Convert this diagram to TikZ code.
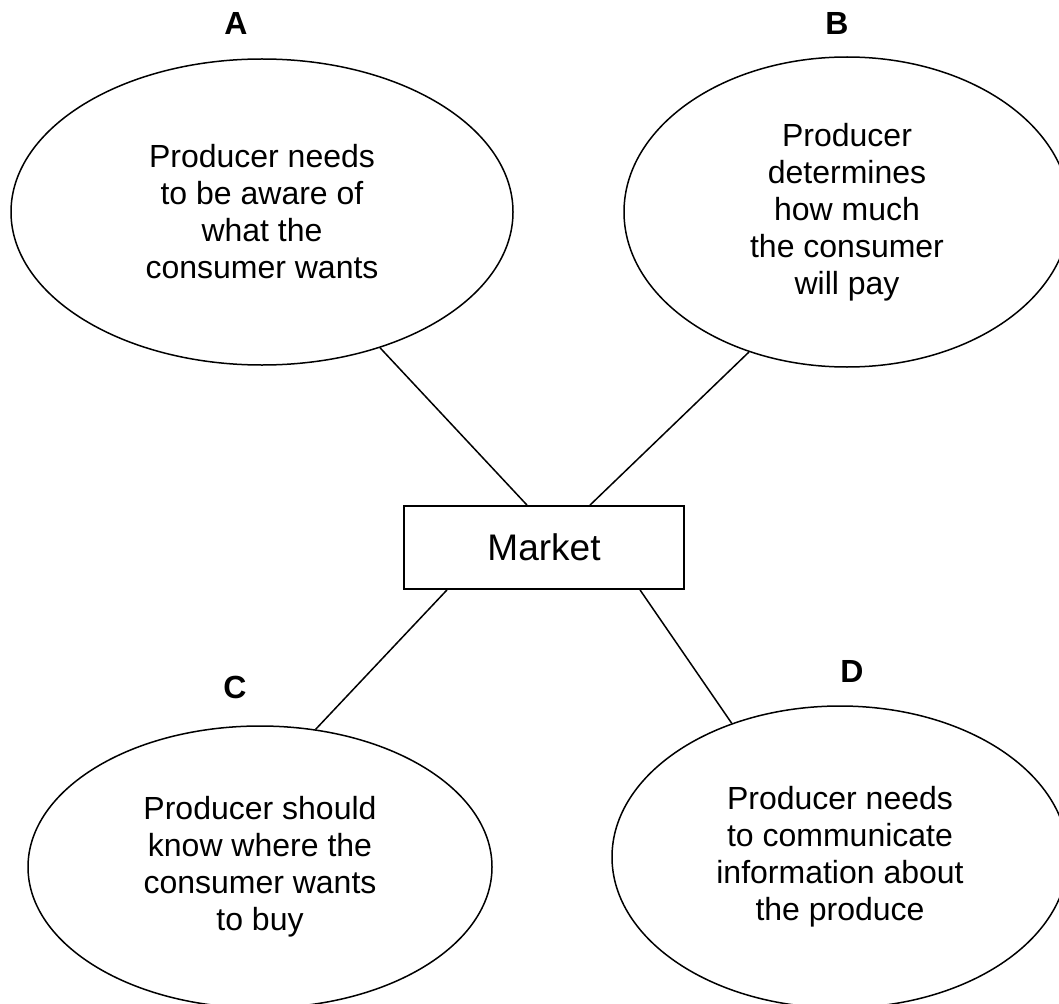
\documentclass[tikz,border=0pt]{standalone}
\usepackage{fontspec}
\setmainfont{Liberation Sans}
\usetikzlibrary{shapes.geometric}

\begin{document}
\begin{tikzpicture}[x=1pt,y=-1pt]

    \tikzset{
      IdeaStyle/.style = { ellipse, draw, line width=1.5pt, inner sep=0pt,
                          align=center, font=\fontsize{32}{37}\selectfont },
      MarketStyle/.style = { rectangle, draw, line width=1.8pt,
                          minimum width=280pt, minimum height=83pt,
                          font=\fontsize{37}{44}\selectfont },
      LetterStyle/.style = { font=\fontsize{32}{38}\selectfont\bfseries },
      EdgeStyle/.style = { line width=1.5pt } }
      \useasboundingbox (0,0) rectangle (1059,1003);
      \clip (0,0) rectangle (1059,1003);

      \node[MarketStyle] (M) at (544,547.5) {Market};

      \node[IdeaStyle, minimum width=502pt, minimum height=306pt] (A) at (262,212)
        {Producer needs\\to be aware of\\what the\\consumer wants};
      \node[IdeaStyle, minimum width=446pt, minimum height=310pt] (B) at (847,212)
        {Producer\\determines\\how much\\the consumer\\will pay};
      \node[IdeaStyle, minimum width=464pt, minimum height=282pt] (C) at (260,867)
        {Producer should\\know where the\\consumer wants\\to buy};
      \node[IdeaStyle, minimum width=456pt, minimum height=302pt] (D) at (840,857)
        {Producer needs\\to communicate\\information about\\the produce};

      \node[LetterStyle] (la) at (236,23) {A};
      \node[LetterStyle] (lb) at (837,23) {B};
      \node[LetterStyle] (lc) at (235,687) {C};
      \node[LetterStyle] (ld) at (852,671) {D};

      \draw[EdgeStyle] (A.-49) -- ([xshift=-17pt]M.north);
      \draw[EdgeStyle] (B.235) -- ([xshift=46pt]M.north);
      \draw[EdgeStyle] ([xshift=-97pt]M.south) -- (C.68);
      \draw[EdgeStyle] ([xshift=96pt]M.south) -- (D.129);
    \end{tikzpicture}
\end{document}
